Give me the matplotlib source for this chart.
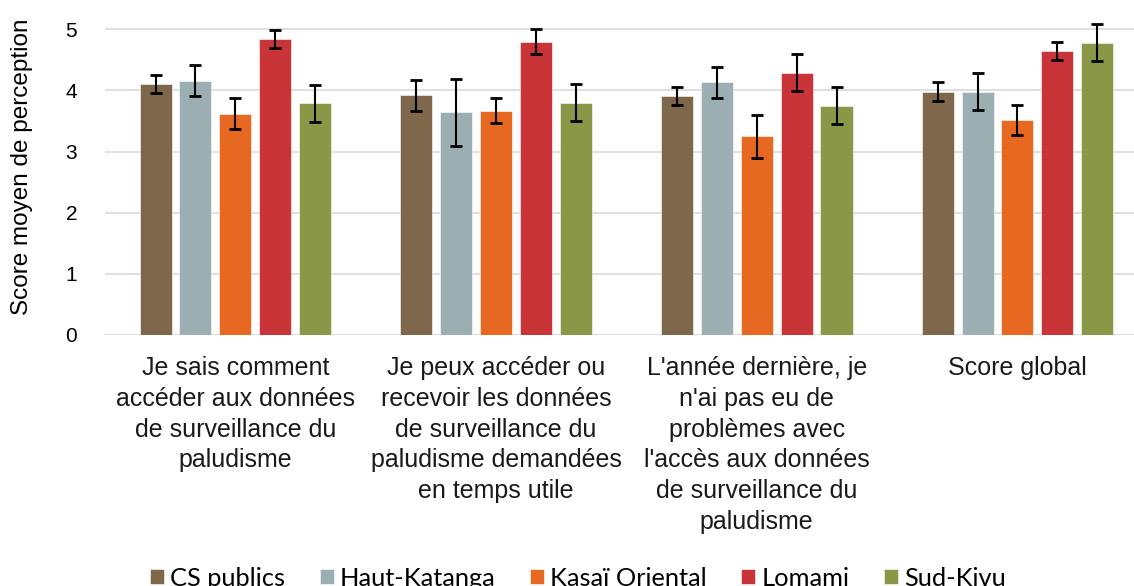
import numpy as np
import matplotlib.pyplot as plt

questions = [
    "Je sais comment\naccéder aux données\nde surveillance du\npaludisme",
    "Je peux accéder ou\nrecevoir les données\nde surveillance du\npaludisme demandées\nen temps utile",
    "L'année dernière, je\nn'ai pas eu de\nproblèmes avec\nl'accès aux données\nde surveillance du\npaludisme",
    "Score global",
]
groups = ["CS publics", "Haut-Katanga", "Kasaï Oriental", "Lomami", "Sud-Kivu"]
colors = ["#7E674A", "#9BAEB2", "#E76821", "#C83438", "#8A9746"]

# mean perception score per group, one list per question
cs_publics = [4.11, 3.92, 3.91, 3.98]
haut_katanga = [4.16, 3.64, 4.13, 3.98]
kasai_oriental = [3.62, 3.67, 3.25, 3.52]
lomami = [4.84, 4.80, 4.29, 4.64]
sud_kivu = [3.79, 3.80, 3.75, 4.78]

# half-width of the confidence interval
cs_publics_err = [0.15, 0.25, 0.15, 0.15]
haut_katanga_err = [0.25, 0.55, 0.25, 0.30]
kasai_oriental_err = [0.25, 0.20, 0.35, 0.25]
lomami_err = [0.15, 0.20, 0.30, 0.15]
sud_kivu_err = [0.30, 0.30, 0.30, 0.30]

values = [cs_publics, haut_katanga, kasai_oriental, lomami, sud_kivu]
errors = [cs_publics_err, haut_katanga_err, kasai_oriental_err, lomami_err, sud_kivu_err]

fig = plt.figure(figsize=(11.34, 5.86), dpi=100)
ax = fig.add_axes([105 / 1134, 1 - 335 / 586, 1 - 105 / 1134, 335 / 586])

x = np.arange(len(questions))
step = 0.153
width = 0.123
for k, (name, vals, errs, col) in enumerate(zip(groups, values, errors, colors)):
    pos = x + (k - 2) * step
    ax.bar(pos, vals, width, color=col, label=name, zorder=2,
           edgecolor="white", linewidth=0.4)
    ax.errorbar(pos, vals, yerr=errs, fmt="none", ecolor="black",
                elinewidth=1.5, capsize=4.4, capthick=2.0, zorder=3)

ax.set_xlim(-0.5, -0.5 + (1134 - 105) / 260.7)
ax.set_ylim(0, 335 / 61.14)
ax.set_yticks(range(6))
ax.yaxis.grid(True, color="#D9D9D9", linewidth=1.2, zorder=0)
ax.set_axisbelow(True)
for s in ax.spines.values():
    s.set_visible(False)
ax.tick_params(axis="both", length=0)
ax.tick_params(axis="y", pad=20, labelsize=15)
for lbl in ax.get_yticklabels():
    lbl.set_fontfamily("Liberation Sans")

ax.set_xticks(x)
ax.set_xticklabels(questions, fontsize=18, linespacing=1.36,
                   fontfamily="Liberation Sans", color="#1a1a1a")
ax.tick_params(axis="x", pad=15)

fig.text(22 / 1134, 1 - 167 / 586, "Score moyen de perception", rotation=90,
         ha="center", va="center", fontsize=17.5, fontfamily="Liberation Sans")

handles, labels = ax.get_legend_handles_labels()
fig.legend(handles, labels, loc="center", ncol=5,
           bbox_to_anchor=(578 / 1134, 1 - 578 / 586), frameon=False,
           prop={"family": "Lato", "size": 18.3},
           handlelength=0.55, handleheight=0.55, handletextpad=0.25,
           columnspacing=1.35)

fig.savefig("out.png", dpi=100)
